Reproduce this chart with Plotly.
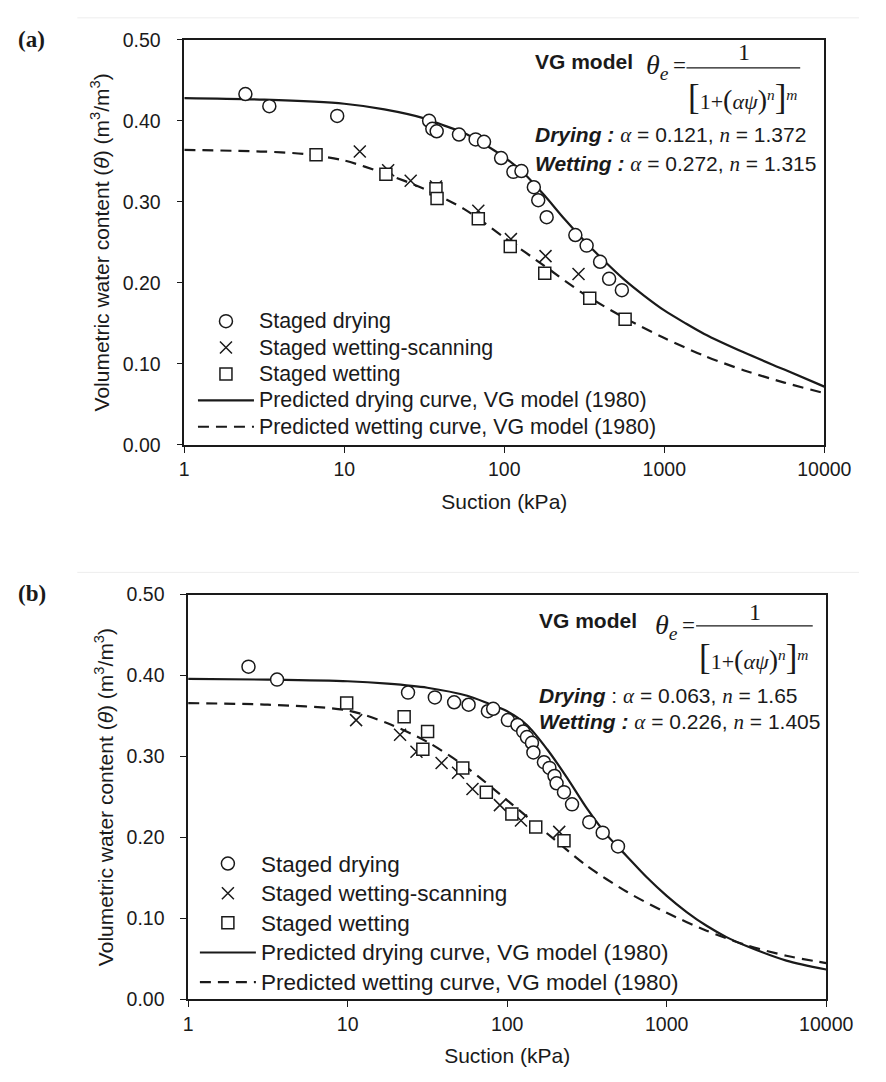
import plotly.graph_objects as go

W, H = 886, 1082


def PX(x):
    return x / W


def PY(y):
    return 1 - y / H


SANS = "Arial, Liberation Sans, Helvetica, sans-serif"
SERIF = "Times New Roman, Liberation Serif, serif"
INK = "#1a1a1a"

# ---------------- Panel (a) data ----------------
a_dry_suction = [2.41, 3.40, 9.03, 33.9, 35.5, 37.8, 52.1, 66.2, 74.7, 95.5, 114, 128,
                 153, 163, 184, 278, 327, 397, 452, 543]
a_dry_theta = [0.433, 0.418, 0.406, 0.400, 0.390, 0.387, 0.383, 0.377, 0.374, 0.354, 0.337, 0.338,
               0.318, 0.302, 0.281, 0.259, 0.246, 0.226, 0.205, 0.191]
a_scan_suction = [12.5, 18.8, 26.0, 37.4, 68.8, 110, 181, 291]
a_scan_theta = [0.362, 0.339, 0.326, 0.319, 0.289, 0.254, 0.233, 0.211]
a_wet_suction = [6.66, 18.2, 37.4, 38.0, 68.8, 109, 179, 342, 569]
a_wet_theta = [0.358, 0.334, 0.316, 0.304, 0.279, 0.245, 0.212, 0.181, 0.155]
a_dry_curve_suction = [1, 3.16, 10, 17.8, 31.6, 42.2, 56.2, 75, 100, 133, 178, 237, 316, 422, 562,
                       750, 1000, 1334, 1778, 3162, 5623, 10000]
a_dry_curve_theta = [0.428, 0.426, 0.421, 0.414, 0.403, 0.394, 0.385, 0.371, 0.355, 0.335, 0.308,
                     0.279, 0.252, 0.227, 0.204, 0.184, 0.166, 0.151, 0.137, 0.114, 0.093, 0.072]
a_wet_curve_suction = [1, 3.16, 5.62, 10, 17.8, 31.6, 56.2, 100, 178, 316, 562, 1000, 1778, 3162,
                       5623, 10000]
a_wet_curve_theta = [0.364, 0.362, 0.359, 0.351, 0.335, 0.316, 0.291, 0.256, 0.221, 0.186, 0.157,
                     0.132, 0.110, 0.092, 0.077, 0.064]

# ---------------- Panel (b) data ----------------
b_dry_suction = [2.39, 3.61, 23.9, 35.2, 46.5, 57.3, 75.7, 81.7, 101, 116, 126, 133, 143, 146,
                 170, 184, 198, 204, 227, 255, 327, 397, 495]
b_dry_theta = [0.411, 0.395, 0.379, 0.373, 0.367, 0.364, 0.356, 0.359, 0.345, 0.339, 0.331, 0.324,
               0.317, 0.305, 0.293, 0.286, 0.276, 0.267, 0.256, 0.241, 0.219, 0.206, 0.189]
b_scan_suction = [11.3, 21.3, 27.0, 38.8, 49.2, 60.6, 90, 122, 212]
b_scan_theta = [0.345, 0.327, 0.306, 0.292, 0.280, 0.260, 0.240, 0.221, 0.207]
b_wet_suction = [9.86, 22.6, 31.7, 29.6, 52.7, 74, 107, 151, 227]
b_wet_theta = [0.366, 0.349, 0.331, 0.309, 0.286, 0.256, 0.229, 0.213, 0.196]
b_dry_curve_suction = [1, 3.16, 10, 17.8, 31.6, 56.2, 75, 100, 133, 178, 237, 316, 422, 562, 750,
                       1000, 1334, 1778, 2371, 3162, 5623, 10000]
b_dry_curve_theta = [0.396, 0.395, 0.393, 0.390, 0.385, 0.375, 0.366, 0.356, 0.339, 0.309, 0.274,
                     0.236, 0.203, 0.177, 0.151, 0.128, 0.108, 0.091, 0.077, 0.066, 0.048, 0.037]
b_wet_curve_suction = [1, 3.16, 10, 17.8, 31.6, 56.2, 100, 178, 316, 562, 1000, 1778, 3162, 5623,
                       10000]
b_wet_curve_theta = [0.366, 0.364, 0.357, 0.341, 0.318, 0.286, 0.246, 0.205, 0.165, 0.133, 0.107,
                     0.085, 0.067, 0.054, 0.045]

x_tick_vals = [1, 10, 100, 1000, 10000]
x_tick_text = ["1", "10", "100", "1000", "10000"]
y_tick_vals = [0.0, 0.1, 0.2, 0.3, 0.4, 0.5]
y_tick_text = ["0.00", "0.10", "0.20", "0.30", "0.40", "0.50"]

legend_names = ["Staged drying", "Staged wetting-scanning", "Staged wetting",
                "Predicted drying curve, VG model (1980)",
                "Predicted wetting curve, VG model (1980)"]

fig = go.Figure()


def add_panel(xa, ya, leg, txt_size, dry, scan, wet, dcurve, wcurve):
    def nm(s):
        return '<span style="font-size:%.1fpx">%s</span>' % (txt_size, s)

    fig.add_trace(go.Scatter(x=dcurve[0], y=dcurve[1], mode="lines",
                             line=dict(color=INK, width=2.2, shape="spline", smoothing=0.8),
                             name=nm(legend_names[3]),
                             xaxis=xa, yaxis=ya, legend=leg, legendrank=4))
    fig.add_trace(go.Scatter(x=wcurve[0], y=wcurve[1], mode="lines",
                             line=dict(color=INK, width=2.2, dash="11px,7px", shape="spline",
                                       smoothing=0.8),
                             name=nm(legend_names[4]),
                             xaxis=xa, yaxis=ya, legend=leg, legendrank=5))
    fig.add_trace(go.Scatter(x=scan[0], y=scan[1], mode="markers",
                             marker=dict(symbol="x-thin-open", size=12, color=INK,
                                         line=dict(width=1.5, color=INK)),
                             name=nm(legend_names[1]), xaxis=xa, yaxis=ya, legend=leg, legendrank=2))
    fig.add_trace(go.Scatter(x=wet[0], y=wet[1], mode="markers",
                             marker=dict(symbol="square", size=12, color="white",
                                         line=dict(width=1.5, color=INK)),
                             name=nm(legend_names[2]), xaxis=xa, yaxis=ya, legend=leg, legendrank=3))
    fig.add_trace(go.Scatter(x=dry[0], y=dry[1], mode="markers",
                             marker=dict(symbol="circle", size=13, color="white",
                                         line=dict(width=1.5, color=INK)),
                             name=nm(legend_names[0]), xaxis=xa, yaxis=ya, legend=leg, legendrank=1))


add_panel("x", "y", "legend", 21.4,
          (a_dry_suction, a_dry_theta), (a_scan_suction, a_scan_theta), (a_wet_suction, a_wet_theta),
          (a_dry_curve_suction, a_dry_curve_theta), (a_wet_curve_suction, a_wet_curve_theta))
add_panel("x2", "y2", "legend2", 22.5,
          (b_dry_suction, b_dry_theta), (b_scan_suction, b_scan_theta), (b_wet_suction, b_wet_theta),
          (b_dry_curve_suction, b_dry_curve_theta), (b_wet_curve_suction, b_wet_curve_theta))

xcommon = dict(type="log", range=[0, 4], tickvals=x_tick_vals, ticktext=x_tick_text,
               ticks="outside", ticklen=6, tickwidth=1.3, tickcolor=INK,
               showline=True, linecolor=INK, linewidth=1.5, mirror=True,
               showgrid=False, zeroline=False, tickfont=dict(size=19.5, color=INK),
               title=dict(text="Suction (kPa)", font=dict(size=21, color=INK), standoff=15),
               ticklabelstandoff=0)
ycommon = dict(range=[0, 0.5], tickvals=y_tick_vals, ticktext=y_tick_text,
               ticks="outside", ticklen=6, tickwidth=1.3, tickcolor=INK,
               showline=True, linecolor=INK, linewidth=1.5, mirror=True,
               showgrid=False, zeroline=False, tickfont=dict(size=19.5, color=INK),
               title=dict(text="Volumetric water content (<i>θ</i>) (m<sup>3</sup>/m<sup>3</sup>)",
                          font=dict(size=21, color=INK), standoff=7),
               ticklabelstandoff=12)

fig.update_layout(
    width=W, height=H, autosize=False,
    margin=dict(l=0, r=0, t=0, b=0, pad=0),
    paper_bgcolor="white", plot_bgcolor="white",
    font=dict(family=SANS, color=INK),
    xaxis=dict(domain=[PX(186), PX(850)], anchor="y", **xcommon),
    yaxis=dict(domain=[PY(443), PY(29.3)], anchor="x", **ycommon),
    xaxis2=dict(domain=[PX(190), PX(852)], anchor="y2", **xcommon),
    yaxis2=dict(domain=[PY(1009), PY(595.7)], anchor="x2", **ycommon),
    legend=dict(x=PX(195), y=PY(298), xanchor="left", yanchor="top", bgcolor="rgba(0,0,0,0)",
                font=dict(size=18, color=INK), itemwidth=56, tracegroupgap=0),
    legend2=dict(x=PX(197), y=PY(850), xanchor="left", yanchor="top", bgcolor="rgba(0,0,0,0)",
                 font=dict(size=20.5, color=INK), itemwidth=56, tracegroupgap=0),
    showlegend=True,
)

ALPHA = '<span style="font-family:Liberation Serif, Times New Roman;font-style:italic">α</span>'
NN = '<span style="font-family:Liberation Serif, Times New Roman;font-style:italic">n</span>'

annotations = []


def ann(x, y, text, size, family=SANS, xanchor="left", yanchor="middle"):
    annotations.append(dict(x=PX(x), y=PY(y), xref="paper", yref="paper", text=text,
                            showarrow=False, xanchor=xanchor, yanchor=yanchor,
                            font=dict(size=size, family=family, color=INK)))


shapes = []


def equation(x0, yv, frac_x0, frac_x1, frac_y, num_x, num_y, den_x, den_y):
    ann(x0, yv, "<i>θ</i><sub><i>e</i></sub>", 28, SERIF)
    ann(x0 + 28, yv - 1, "=", 23, SERIF)
    shapes.append(dict(type="line", xref="paper", yref="paper", x0=PX(frac_x0), x1=PX(frac_x1),
                       y0=PY(frac_y), y1=PY(frac_y), line=dict(color=INK, width=1.2)))
    ann(num_x, num_y, "1", 24, SERIF, xanchor="center")
    den = ('<span style="font-size:35px">[</span>1+<span style="font-size:28px">(</span>'
           '<i>αψ</i><span style="font-size:28px">)</span><sup><i>n</i></sup>'
           '<span style="font-size:35px">]</span><sup><i>m</i></sup>')
    ann(den_x, den_y, den, 22, SERIF, xanchor="center")


# panel (a) text block
ann(548, 52, "<b>VG model</b>", 21)
equation(663, 57, 707, 825, 58, 767, 42, 765, 88)
ann(548, 127, "<b><i>Drying :</i></b> " + ALPHA + " = 0.121, " + NN + " = 1.372", 21)
ann(548, 156, "<b><i>Wetting :</i></b> " + ALPHA + " = 0.272, " + NN + " = 1.315", 21)

# panel (b) text block
ann(552, 622, "<b>VG model</b>", 21)
equation(672, 628, 717, 838, 627.7, 778, 613, 777, 660)
ann(552, 699, "<b><i>Drying</i></b> : " + ALPHA + " = 0.063, " + NN + " = 1.65", 21)
ann(552, 726, "<b><i>Wetting :</i></b> " + ALPHA + " = 0.226, " + NN + " = 1.405", 21)

# panel labels
ann(27, 29, "<b>(a)</b>", 23, SERIF, xanchor="center")
ann(28, 595, "<b>(b)</b>", 23, SERIF, xanchor="center")

# faint page separators
for yy in (7, 573):
    shapes.append(dict(type="line", xref="paper", yref="paper", x0=PX(75), x1=1,
                       y0=PY(yy), y1=PY(yy), line=dict(color="#ededed", width=1)))

fig.update_layout(annotations=annotations, shapes=shapes)
fig.write_html("out.html")
